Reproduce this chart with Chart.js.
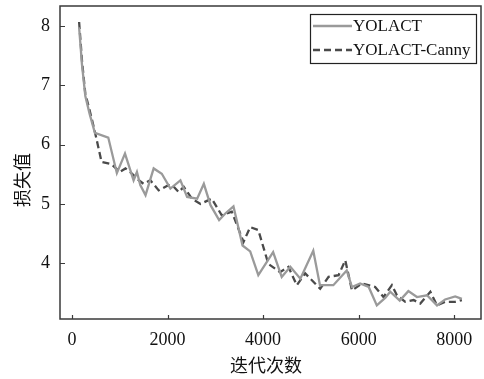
<!DOCTYPE html>
<html>
<head>
<meta charset="utf-8">
<script src="https://cdn.jsdelivr.net/npm/chart.js@4"></script>
<style>
  body { margin: 0; background: #fff; }
  #wrap { width: 484px; height: 379px; position: relative; }
</style>
</head>
<body>
<div id="wrap"><canvas id="lossChart"></canvas></div>
<script>
// values
const yolactIters = [150, 210, 280, 370, 480, 760, 940, 1110, 1290, 1360, 1430, 1540, 1710, 1880, 2060, 2270, 2410, 2620, 2760, 2900, 3080, 3210, 3380, 3570, 3730, 3900, 4210, 4390, 4570, 4780, 5050, 5190, 5470, 5750, 5860, 6030, 6210, 6380, 6560, 6660, 6860, 7040, 7220, 7430, 7640, 7810, 8020, 8160];
const yolactLoss = [7.98, 7.35, 6.82, 6.52, 6.2, 6.12, 5.52, 5.85, 5.4, 5.54, 5.32, 5.15, 5.6, 5.51, 5.26, 5.4, 5.12, 5.09, 5.34, 4.98, 4.73, 4.84, 4.96, 4.3, 4.2, 3.8, 4.19, 3.77, 3.94, 3.74, 4.21, 3.63, 3.63, 3.88, 3.6, 3.66, 3.6, 3.29, 3.42, 3.52, 3.37, 3.53, 3.43, 3.46, 3.29, 3.39, 3.44, 3.4];

const cannyIters = [150, 210, 280, 370, 480, 620, 830, 1000, 1120, 1260, 1400, 1500, 1640, 1815, 2025, 2130, 2235, 2340, 2510, 2690, 2925, 3135, 3345, 3590, 3730, 3900, 4110, 4355, 4530, 4705, 4880, 5195, 5370, 5580, 5720, 5860, 6070, 6345, 6520, 6695, 6800, 6975, 7150, 7290, 7500, 7640, 7810, 8020, 8160];
const cannyLoss = [8.07, 7.42, 6.86, 6.58, 6.22, 5.71, 5.67, 5.54, 5.6, 5.51, 5.4, 5.34, 5.4, 5.23, 5.32, 5.29, 5.2, 5.29, 5.09, 5.0, 5.09, 4.81, 4.87, 4.36, 4.61, 4.56, 3.99, 3.85, 3.94, 3.63, 3.83, 3.57, 3.77, 3.8, 4.05, 3.54, 3.66, 3.6, 3.43, 3.63, 3.46, 3.35, 3.38, 3.32, 3.52, 3.29, 3.35, 3.35, 3.38];

const seriesNames = ["YOLACT", "YOLACT-Canny"];
const xTicks = [0, 2000, 4000, 6000, 8000];
const yTicks = [4, 5, 6, 7, 8];
const xTitle = "迭代次数";
const yTitle = "损失值";

const serif = "'Liberation Serif', 'DejaVu Serif', serif";
const cjk = "'Noto Sans CJK SC', sans-serif";

function toPoints(xs, ys) {
  return xs.map((x, i) => ({ x: x, y: ys[i] }));
}

// frame, inward ticks, legend box, axis titles
const framePlugin = {
  id: "frame",
  afterDraw(chart) {
    const { ctx, chartArea: a, scales } = chart;
    ctx.save();
    ctx.strokeStyle = "#3a3a3a";
    ctx.lineWidth = 1.5;
    ctx.strokeRect(a.left, a.top, a.right - a.left, a.bottom - a.top);

    ctx.lineWidth = 1.2;
    ctx.beginPath();
    xTicks.forEach(v => {
      const px = Math.round(scales.x.getPixelForValue(v)) + 0.5;
      ctx.moveTo(px, a.bottom);
      ctx.lineTo(px, a.bottom - 4);
    });
    yTicks.forEach(v => {
      const py = Math.round(scales.y.getPixelForValue(v)) + 0.5;
      ctx.moveTo(a.left, py);
      ctx.lineTo(a.left + 5, py);
    });
    ctx.stroke();

    // legend
    const lx = 310, ly = 14, lw = 166, lh = 49;
    ctx.fillStyle = "#fff";
    ctx.fillRect(lx, ly, lw, lh);
    ctx.strokeStyle = "#222";
    ctx.lineWidth = 1.2;
    ctx.strokeRect(lx + 0.5, ly + 0.5, lw, lh);
    chart.data.datasets.forEach((ds, i) => {
      const y = ly + 12 + i * 24;
      ctx.strokeStyle = ds.borderColor;
      ctx.lineWidth = ds.borderWidth;
      ctx.setLineDash(ds.borderDash || []);
      ctx.beginPath();
      ctx.moveTo(lx + 3, y);
      ctx.lineTo(lx + 42, y);
      ctx.stroke();
      ctx.setLineDash([]);
      ctx.fillStyle = "#111";
      ctx.font = "17px " + serif;
      ctx.textBaseline = "middle";
      ctx.textAlign = "left";
      ctx.fillText(ds.label, lx + 43, y + 1);
    });

    // axis titles
    ctx.fillStyle = "#111";
    ctx.font = "18px " + cjk;
    ctx.textAlign = "center";
    ctx.textBaseline = "middle";
    ctx.fillText(xTitle, 266, 365);
    ctx.translate(22, 180);
    ctx.rotate(-Math.PI / 2);
    ctx.fillText(yTitle, 0, 0);
    ctx.restore();
  }
};

const ctx = document.getElementById("lossChart").getContext("2d");
const lossChart = new Chart(ctx, {
  type: "line",
  data: {
    datasets: [
      {
        label: seriesNames[0],
        data: toPoints(yolactIters, yolactLoss),
        borderColor: "#9a9a9a",
        borderWidth: 2.3,
        pointRadius: 0,
        tension: 0
      },
      {
        label: seriesNames[1],
        data: toPoints(cannyIters, cannyLoss),
        borderColor: "#4a4a4a",
        borderWidth: 2.3,
        borderDash: [7, 4],
        pointRadius: 0,
        tension: 0
      }
    ]
  },
  options: {
    responsive: true,
    maintainAspectRatio: false,
    animation: false,
    layout: { autoPadding: false, padding: { left: 0, right: 3, top: 6, bottom: 0 } },
    plugins: {
      legend: { display: false },
      tooltip: { enabled: false }
    },
    scales: {
      x: {
        type: "linear",
        min: -250,
        max: 8560,
        grid: { display: false, drawTicks: false },
        border: { display: false },
        ticks: {
          color: "#111", font: { family: serif, size: 18 }, padding: 10, maxRotation: 0,
          callback: v => String(v)
        },
        afterBuildTicks: s => { s.ticks = xTicks.map(v => ({ value: v })); },
        afterFit: s => { s.height = 60; s.paddingLeft = 0; s.paddingRight = 0; }
      },
      y: {
        min: 3.06,
        max: 8.34,
        grid: { display: false, drawTicks: false },
        border: { display: false },
        ticks: {
          color: "#111", font: { family: serif, size: 18 }, padding: 10,
          callback: v => String(v)
        },
        afterBuildTicks: s => { s.ticks = yTicks.map(v => ({ value: v })); },
        afterFit: s => { s.width = 60; s.paddingTop = 0; s.paddingBottom = 0; }
      }
    }
  },
  plugins: [framePlugin]
});
</script>
</body>
</html>
